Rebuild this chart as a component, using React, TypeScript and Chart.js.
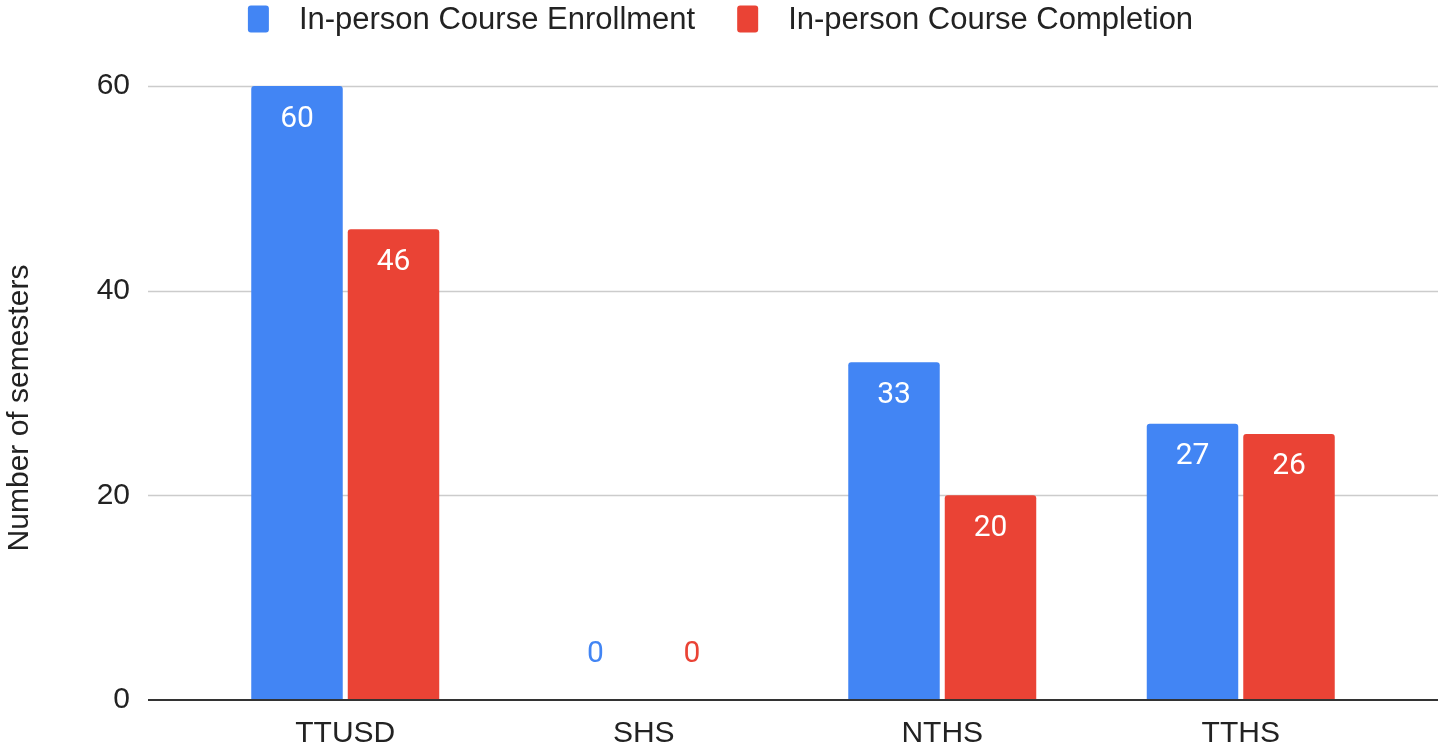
import React, { useEffect, useRef } from "react";
import { Chart, registerables } from "chart.js";

Chart.register(...registerables);

const categories = ["TTUSD", "SHS", "NTHS", "TTHS"];
const enrollment = [60, 0, 33, 27];
const completion = [46, 0, 20, 26];
const seriesLabels = ["In-person Course Enrollment", "In-person Course Completion"];
const seriesColors = ["#4285F4", "#EA4335"];
const yTitle = "Number of semesters";
const yMin = 0;
const yMax = 60;
const yStep = 20;

const W = 1441;
const H = 747;
const AXIS_FONT = "30px 'Liberation Sans', Arial, sans-serif";
const LEGEND_FONT = "31px 'Liberation Sans', Arial, sans-serif";
const LABEL_FONT = "30px Roboto, 'Liberation Sans', sans-serif";
const GRID_LEFT = 148;
const GRID_RIGHT = 1438;

const gridPlugin = {
  id: "extendedGrid",
  beforeDatasetsDraw(chart: any) {
    const { ctx } = chart;
    const ys = chart.scales.y;
    ctx.save();
    ctx.strokeStyle = "#cccccc";
    ctx.lineWidth = 1.5;
    ys.ticks.forEach((t: any) => {
      if (t.value === 0) return;
      const y = Math.round(ys.getPixelForValue(t.value)) + 0.5;
      ctx.beginPath();
      ctx.moveTo(GRID_LEFT, y);
      ctx.lineTo(GRID_RIGHT, y);
      ctx.stroke();
    });
    ctx.restore();
  },
  afterDatasetsDraw(chart: any) {
    const { ctx } = chart;
    const ys = chart.scales.y;
    const y0 = Math.round(ys.getPixelForValue(0));
    ctx.save();
    ctx.strokeStyle = "#333333";
    ctx.lineWidth = 2;
    ctx.beginPath();
    ctx.moveTo(GRID_LEFT, y0);
    ctx.lineTo(GRID_RIGHT, y0);
    ctx.stroke();
    ctx.restore();
  },
};

const valueLabelPlugin = {
  id: "valueLabels",
  afterDatasetsDraw(chart: any) {
    const { ctx } = chart;
    ctx.save();
    ctx.font = LABEL_FONT;
    ctx.textAlign = "center";
    ctx.textBaseline = "middle";
    chart.data.datasets.forEach((ds: any, di: number) => {
      const meta = chart.getDatasetMeta(di);
      meta.data.forEach((bar: any, i: number) => {
        const v = ds.data[i];
        if (v > 0) {
          ctx.fillStyle = "#ffffff";
          ctx.fillText(String(v), bar.x, bar.y + 33);
        } else {
          ctx.fillStyle = seriesColors[di];
          ctx.fillText(String(v), bar.x, bar.base - 46);
        }
      });
    });
    ctx.restore();
  },
};

const legendAndTitlePlugin = {
  id: "legendAndTitle",
  afterDraw(chart: any) {
    const { ctx } = chart;
    ctx.save();
    ctx.font = LEGEND_FONT;
    const boxW = 21;
    const boxH = 27;
    const gapText = 30;
    const gapItem = 42;
    const widths = seriesLabels.map((l) => boxW + gapText + ctx.measureText(l).width);
    const total = widths.reduce((a, b) => a + b, 0) + gapItem * (widths.length - 1);
    let x = W / 2 - total / 2;
    const cy = 19;
    seriesLabels.forEach((l, i) => {
      ctx.fillStyle = seriesColors[i];
      ctx.beginPath();
      (ctx as any).roundRect(x, cy - boxH / 2, boxW, boxH, 3);
      ctx.fill();
      ctx.fillStyle = "#222222";
      ctx.textAlign = "left";
      ctx.textBaseline = "middle";
      ctx.fillText(l, x + boxW + gapText, cy + 1);
      x += widths[i] + gapItem;
    });
    ctx.font = AXIS_FONT;
    ctx.fillStyle = "#222222";
    ctx.translate(20, 408);
    ctx.rotate(-Math.PI / 2);
    ctx.textAlign = "center";
    ctx.textBaseline = "middle";
    ctx.fillText(yTitle, 0, 0);
    ctx.restore();
  },
};

export default function App() {
  const ref = useRef<HTMLCanvasElement | null>(null);
  useEffect(() => {
    if (!ref.current) return;
    const chart = new Chart(ref.current, {
      type: "bar",
      data: {
        labels: categories,
        datasets: [
          {
            label: seriesLabels[0],
            data: enrollment,
            backgroundColor: seriesColors[0],
            borderRadius: 3,
            categoryPercentage: 0.6466,
            barPercentage: 0.948,
          },
          {
            label: seriesLabels[1],
            data: completion,
            backgroundColor: seriesColors[1],
            borderRadius: 3,
            categoryPercentage: 0.6466,
            barPercentage: 0.948,
          },
        ],
      },
      options: {
        animation: false,
        responsive: true,
        maintainAspectRatio: false,
        devicePixelRatio: 1,
        layout: { padding: { top: 86, right: 51, left: 0, bottom: 0 } },
        plugins: {
          legend: { display: false },
          tooltip: { enabled: false },
          title: { display: false },
        },
        scales: {
          x: {
            grid: { display: false, drawTicks: false },
            border: { display: false },
            ticks: {
              color: "#222222",
              font: { family: "'Liberation Sans', Arial, sans-serif", size: 30 },
              padding: 16,
              maxRotation: 0,
            },
            afterFit: (s: any) => {
              s.height = 47;
            },
          },
          y: {
            min: yMin,
            max: yMax,
            grid: {
              display: true,
              color: "rgba(0,0,0,0)",
              drawOnChartArea: false,
              drawTicks: true,
              tickLength: 58,
            },
            border: { display: false },
            ticks: {
              stepSize: yStep,
              color: "#222222",
              font: { family: "'Liberation Sans', Arial, sans-serif", size: 30 },
              padding: 8,
            },
            afterFit: (s: any) => {
              s.width = 196;
            },
          },
        },
      },
      plugins: [gridPlugin, valueLabelPlugin, legendAndTitlePlugin],
    });
    return () => chart.destroy();
  }, []);

  return (
    <div style={{ position: "fixed", left: 0, top: 0, width: W, height: H, background: "#ffffff" }}>
      <canvas ref={ref} />
    </div>
  );
}
